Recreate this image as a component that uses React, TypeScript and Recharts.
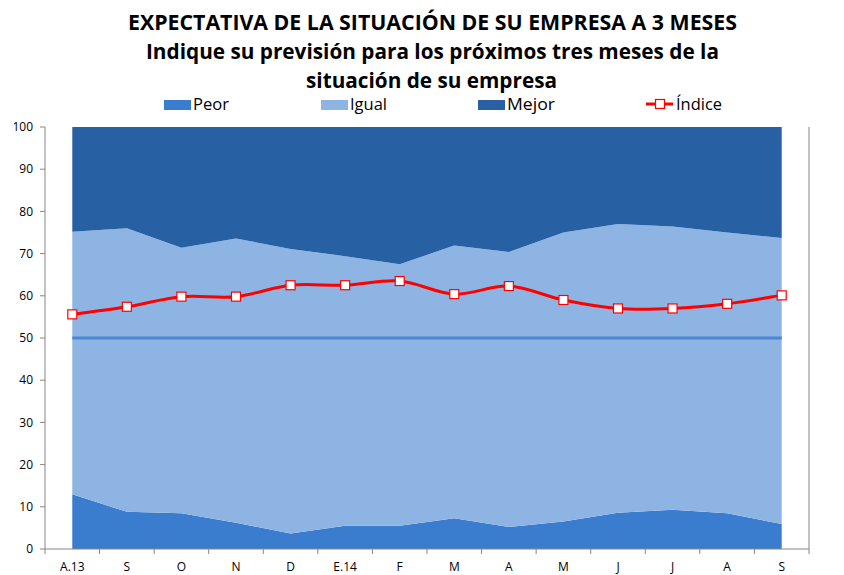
import React from 'react';
import { ComposedChart, Area, Line, XAxis, YAxis, ReferenceLine } from 'recharts';

const categories = ['A.13', 'S', 'O', 'N', 'D', 'E.14', 'F', 'M', 'A', 'M', 'J', 'J', 'A', 'S'];
const peor = [13.0, 8.8, 8.5, 6.2, 3.7, 5.5, 5.5, 7.3, 5.2, 6.5, 8.6, 9.3, 8.5, 5.9];
const igual = [62.2, 67.2, 62.9, 67.4, 67.4, 63.9, 62.0, 64.6, 65.2, 68.5, 68.4, 67.1, 66.5, 67.8];
const mejor = [24.8, 24.0, 28.6, 26.4, 28.9, 30.6, 32.5, 28.1, 29.6, 25.0, 23.0, 23.6, 25.0, 26.3];
const indice = [55.6, 57.4, 59.8, 59.8, 62.5, 62.5, 63.5, 60.4, 62.3, 59.0, 57.0, 57.0, 58.1, 60.1];
const yTicks = [0, 10, 20, 30, 40, 50, 60, 70, 80, 90, 100];
const referenceValue = 50;
const titleLines = [
  'EXPECTATIVA DE LA SITUACIÓN DE SU EMPRESA A 3 MESES',
  'Indique su previsión para los próximos tres meses de la',
  'situación de su empresa',
];
const legendLabels = ['Peor', 'Igual', 'Mejor', 'Índice'];

const C_PEOR = '#3A7DCE';
const C_IGUAL = '#8EB4E3';
const C_MEJOR = '#2860A4';
const C_REF = '#4A86D6';
const C_IDX = '#FF0000';
const AXIS = '#868686';
const FONT = '"Open Sans", "DejaVu Sans", sans-serif';

const data = categories.map((c, i) => ({
  i,
  cat: c,
  peor: peor[i],
  igual: igual[i],
  mejor: mejor[i],
  indice: indice[i],
}));

const n = categories.length;
const xTicks: number[] = [];
for (let k = -0.5; k <= n - 0.5 + 1e-9; k += 0.5) xTicks.push(k);

// Catmull-Rom style smoothing (like spreadsheet "smoothed line")
const smoothCurve = (context: any) => {
  let pts: number[][] = [];
  return {
    areaStart() {},
    areaEnd() {},
    lineStart() {
      pts = [];
    },
    point(x: number, y: number) {
      pts.push([+x, +y]);
    },
    lineEnd() {
      const m = pts.length;
      if (!m) return;
      context.moveTo(pts[0][0], pts[0][1]);
      for (let i = 0; i < m - 1; i++) {
        const p0 = pts[Math.max(i - 1, 0)];
        const p1 = pts[i];
        const p2 = pts[i + 1];
        const p3 = pts[Math.min(i + 2, m - 1)];
        const c1x = p1[0] + (p2[0] - p0[0]) / 6;
        const c1y = p1[1] + (p2[1] - p0[1]) / 6;
        const c2x = p2[0] - (p3[0] - p1[0]) / 6;
        const c2y = p2[1] - (p3[1] - p1[1]) / 6;
        context.bezierCurveTo(c1x, c1y, c2x, c2y, p2[0], p2[1]);
      }
    },
  };
};

const XTick = (props: any) => {
  const { x, y, payload } = props;
  const v = payload.value;
  if (Number.isInteger(v)) {
    return (
      <text x={x} y={y + 17} textAnchor="middle" fontSize={12} fontFamily={FONT} fill="#000">
        {categories[v]}
      </text>
    );
  }
  return <line x1={x} x2={x} y1={y - 5} y2={y} stroke={AXIS} strokeWidth={1} />;
};

const SquareDot = (p: any) => (
  <rect
    key={`dot-${p.index}`}
    x={p.cx - 4.5}
    y={p.cy - 4.5}
    width={9}
    height={9}
    fill="#fff"
    stroke={C_IDX}
    strokeWidth={1.2}
  />
);

const Overlay = () => {
  const titleSpans = [
    { x1: 128, x2: 737, y: 29.5 },
    { x1: 146, x2: 719, y: 58.7 },
    { x1: 306, x2: 557, y: 88 },
  ];
  return (
    <svg
      width={844}
      height={575}
      style={{ position: 'absolute', left: 0, top: 0, pointerEvents: 'none' }}
    >
      {titleLines.map((t, k) => (
        <text
          key={k}
          x={(titleSpans[k].x1 + titleSpans[k].x2) / 2}
          y={titleSpans[k].y}
          textAnchor="middle"
          fontFamily={FONT}
          fontWeight={700}
          fontSize={20.5}
          fill="#000"
          textLength={titleSpans[k].x2 - titleSpans[k].x1}
          lengthAdjust="spacingAndGlyphs"
        >
          {t}
        </text>
      ))}
      <rect x={164} y={100} width={27} height={10} fill={C_PEOR} />
      <text x={193} y={110} fontFamily={FONT} fontSize={16} fill="#000" textLength={36} lengthAdjust="spacingAndGlyphs">{legendLabels[0]}</text>
      <rect x={321} y={100} width={27} height={10} fill={C_IGUAL} />
      <text x={350} y={110} fontFamily={FONT} fontSize={16} fill="#000" textLength={37} lengthAdjust="spacingAndGlyphs">{legendLabels[1]}</text>
      <rect x={478} y={100} width={27} height={10} fill={C_MEJOR} />
      <text x={507} y={110} fontFamily={FONT} fontSize={16} fill="#000" textLength={48} lengthAdjust="spacingAndGlyphs">{legendLabels[2]}</text>
      <line x1={646} x2={673} y1={104} y2={104} stroke={C_IDX} strokeWidth={3} />
      <rect x={655.5} y={99.5} width={9} height={9} fill="#fff" stroke={C_IDX} strokeWidth={1.2} />
      <text x={676} y={110} fontFamily={FONT} fontSize={16} fill="#000" textLength={46} lengthAdjust="spacingAndGlyphs">{legendLabels[3]}</text>
    </svg>
  );
};

export default function App() {
  return (
    <div style={{ position: 'absolute', left: 0, top: 0, width: 844, height: 575, background: '#fff' }}>
      <ComposedChart
        width={844}
        height={575}
        data={data}
        margin={{ top: 127, right: 0, bottom: 0, left: 0 }}
      >
        <XAxis
          type="number"
          dataKey="i"
          domain={[-0.5, n - 0.5]}
          ticks={xTicks}
          interval={0}
          height={26}
          tickLine={false}
          tickSize={5}
          tickMargin={0}
          axisLine={{ stroke: AXIS }}
          tick={<XTick />}
          allowDecimals
        />
        <YAxis
          yAxisId="left"
          domain={[0, 100]}
          ticks={yTicks}
          width={45}
          tickSize={5}
          tickMargin={7}
          axisLine={{ stroke: AXIS }}
          tickLine={{ stroke: AXIS }}
          tick={{ fontSize: 12, fill: '#000', fontFamily: FONT }}
          interval={0}
        />
        <YAxis
          yAxisId="right"
          orientation="right"
          domain={[0, 100]}
          ticks={yTicks}
          width={35}
          tickSize={4}
          tickMargin={8}
          axisLine={{ stroke: AXIS }}
          tickLine={{ stroke: AXIS }}
          tick={{ fontSize: 12, fill: '#000', fontFamily: FONT }}
          interval={0}
        />
        <Area yAxisId="left" type="linear" dataKey="peor" stackId="s" fill={C_PEOR} fillOpacity={1} stroke="none" isAnimationActive={false} />
        <Area yAxisId="left" type="linear" dataKey="igual" stackId="s" fill={C_IGUAL} fillOpacity={1} stroke="none" isAnimationActive={false} />
        <Area yAxisId="left" type="linear" dataKey="mejor" stackId="s" fill={C_MEJOR} fillOpacity={1} stroke="none" isAnimationActive={false} />
        <ReferenceLine
          yAxisId="left"
          segment={[{ x: 0, y: referenceValue }, { x: n - 1, y: referenceValue }]}
          stroke={C_REF}
          strokeWidth={3}
        />
        <Line
          yAxisId="left"
          type={smoothCurve as any}
          dataKey="indice"
          stroke={C_IDX}
          strokeWidth={3}
          dot={SquareDot}
          activeDot={false}
          isAnimationActive={false}
        />
      </ComposedChart>
      <Overlay />
    </div>
  );
}
